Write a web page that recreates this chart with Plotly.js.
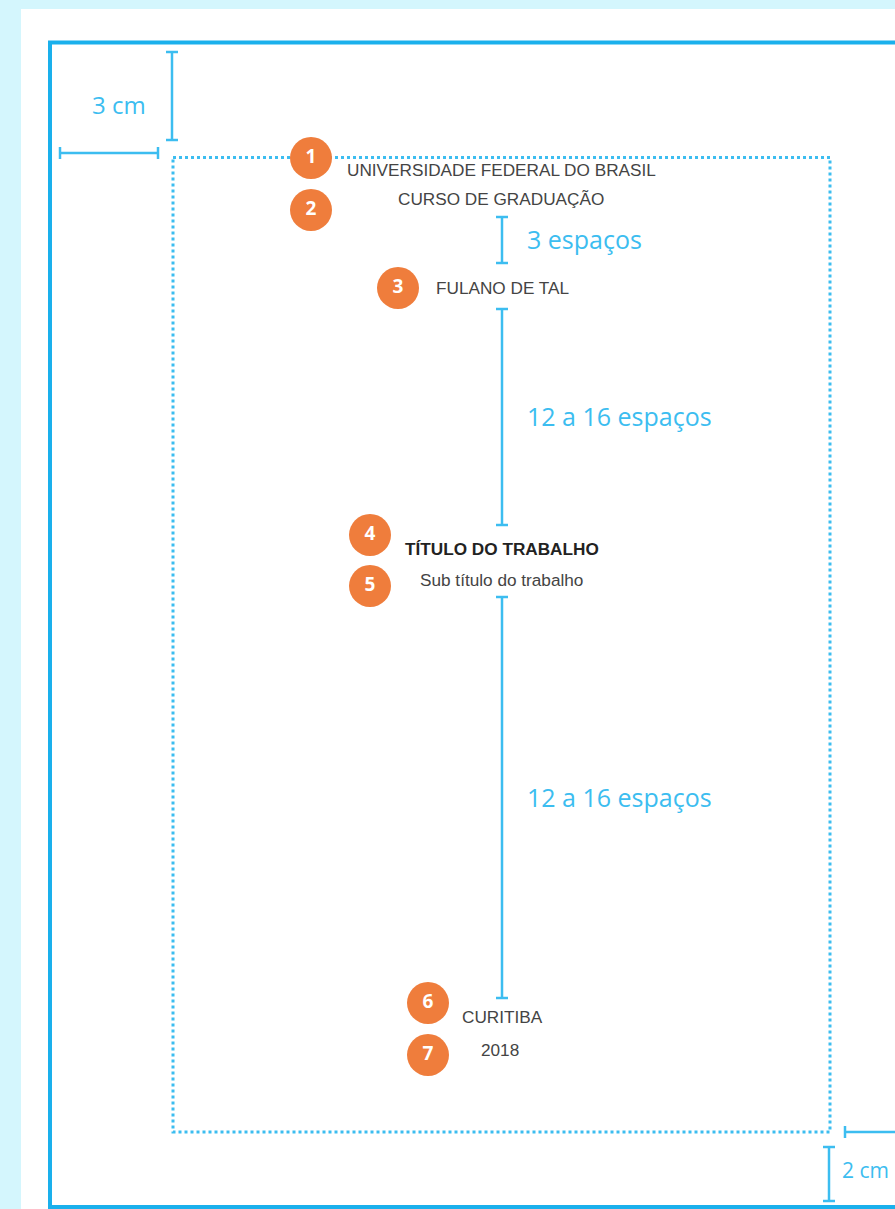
<!DOCTYPE html>
<html>
<head>
<meta charset="utf-8">
<script src="https://cdn.plot.ly/plotly-3.0.1.min.js"></script>
<style>html,body{margin:0;padding:0;background:#d4f6fd;}#chart{width:895px;height:1209px;}</style>
</head>
<body>
<div id="chart"></div>
<script>
// Cover-page content lines
const lineTexts = ["UNIVERSIDADE FEDERAL DO BRASIL", "CURSO DE GRADUAÇÃO", "FULANO DE TAL", "TÍTULO DO TRABALHO", "Sub título do trabalho", "CURITIBA", "2018"];
const lineX = [501, 501, 502.5, 501.5, 501, 502, 500];
const lineY = [170, 199, 288, 549, 580, 1017, 1050];
const lineBold = [false, false, false, true, false, false, false];

// Numbered badges
const badgeNumbers = ["1", "2", "3", "4", "5", "6", "7"];
const badgeX = [311, 311, 398, 370, 370, 428, 428];
const badgeY = [158, 210, 288, 535, 586, 1003, 1055];

// Spacing dimensions (vertical)
const spacingLabels = ["3 espaços", "12 a 16 espaços", "12 a 16 espaços"];
const spacingTop = [217, 309, 597];
const spacingBottom = [263, 525, 998];

// Margin labels
const marginLabels = ["3 cm", "2 cm"];

const BLUE = "#1ab0ec";
const LBLUE = "#3cbdf0";
const ORANGE = "#ef7d3c";

const shapes = [];
// white page
shapes.push({type: "rect", x0: 21, x1: 900, y0: 9, y1: 1215, fillcolor: "#ffffff", line: {width: 0}, layer: "below"});
// outer page border
shapes.push({type: "rect", x0: 50, x1: 905, y0: 42.5, y1: 1207, line: {color: BLUE, width: 4}, layer: "below"});
// dotted text area (behind the badges)
shapes.push({type: "rect", x0: 173, x1: 830, y0: 157.5, y1: 1132, line: {color: LBLUE, width: 3, dash: "dot"}, layer: "below"});

function vdim(x, y0, y1, cap) {
  shapes.push({type: "line", x0: x, x1: x, y0: y0, y1: y1, line: {color: LBLUE, width: 2.5}});
  shapes.push({type: "line", x0: x - cap, x1: x + cap, y0: y0, y1: y0, line: {color: LBLUE, width: 2.5}});
  shapes.push({type: "line", x0: x - cap, x1: x + cap, y0: y1, y1: y1, line: {color: LBLUE, width: 2.5}});
}
function hdim(y, x0, x1, cap) {
  shapes.push({type: "line", x0: x0, x1: x1, y0: y, y1: y, line: {color: LBLUE, width: 2.5}});
  shapes.push({type: "line", x0: x0, x1: x0, y0: y - cap, y1: y + cap, line: {color: LBLUE, width: 2.5}});
  shapes.push({type: "line", x0: x1, x1: x1, y0: y - cap, y1: y + cap, line: {color: LBLUE, width: 2.5}});
}
// margin dimensions
vdim(172, 52, 140, 6);
hdim(153, 60, 158, 6);
vdim(829, 1147, 1201, 6);
hdim(1132, 845, 910, 6);
// spacing dimensions
for (let i = 0; i < spacingLabels.length; i++) vdim(502, spacingTop[i], spacingBottom[i], 6);

const annotations = [];
for (let i = 0; i < lineTexts.length; i++) {
  annotations.push({
    x: lineX[i], y: lineY[i], xref: "x", yref: "y", showarrow: false,
    text: lineBold[i] ? "<b>" + lineTexts[i] + "</b>" : lineTexts[i],
    xanchor: "center", yanchor: "middle",
    font: {family: "Liberation Sans, Arial, sans-serif", size: 17.2, color: lineBold[i] ? "#222" : "#444"}
  });
}
for (let i = 0; i < spacingLabels.length; i++) {
  annotations.push({
    x: 525, y: (spacingTop[i] + spacingBottom[i]) / 2 - 1, xref: "x", yref: "y", showarrow: false,
    text: spacingLabels[i], xanchor: "left", yanchor: "middle",
    font: {family: "Open Sans, Noto Sans, sans-serif", size: 25, color: LBLUE}
  });
}
annotations.push({x: 119, y: 104, xref: "x", yref: "y", showarrow: false, text: marginLabels[0], xanchor: "center", yanchor: "middle", font: {family: "Open Sans, Noto Sans, sans-serif", size: 24, color: LBLUE}});
annotations.push({x: 840, y: 1170, xref: "x", yref: "y", showarrow: false, text: marginLabels[1], xanchor: "left", yanchor: "middle", font: {family: "Open Sans, Noto Sans, sans-serif", size: 21, color: LBLUE}});

const badges = {
  type: "scatter", mode: "markers+text", x: badgeX, y: badgeY, text: badgeNumbers,
  textposition: "middle center", cliponaxis: false, hoverinfo: "skip",
  marker: {size: 42, color: ORANGE, line: {width: 0}},
  textfont: {family: "Open Sans, Noto Sans, sans-serif", size: 19, color: "#ffffff", weight: "bold"}
};

const layout = {
  width: 895, height: 1209,
  margin: {l: 0, r: 0, t: 0, b: 0},
  paper_bgcolor: "#d4f6fd", plot_bgcolor: "rgba(0,0,0,0)",
  showlegend: false,
  xaxis: {range: [0, 895], visible: false, fixedrange: true},
  yaxis: {range: [1209, 0], visible: false, fixedrange: true},
  shapes: shapes, annotations: annotations
};
Plotly.newPlot("chart", [badges], layout, {staticPlot: true});
</script>
</body>
</html>
